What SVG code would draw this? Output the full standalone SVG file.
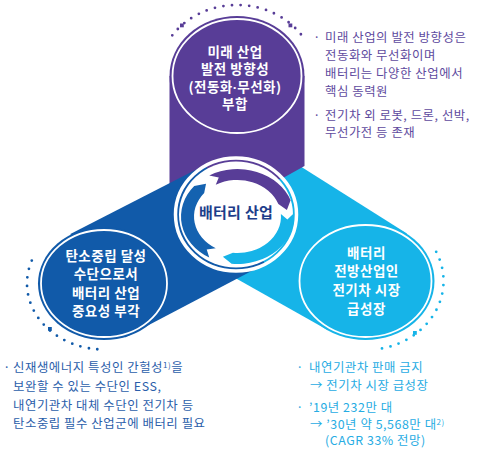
<svg xmlns="http://www.w3.org/2000/svg" width="482" height="452" viewBox="0 0 482 452">
<style>
.lbl{font-family:"Noto Sans CJK KR","Noto Sans",sans-serif;font-weight:700;font-size:13.5px;letter-spacing:0.5px;fill:#fff;text-anchor:middle}
.note{font-family:"Noto Sans CJK KR","Noto Sans",sans-serif;font-size:12.4px;letter-spacing:0.55px}
.nd{font-family:"Liberation Sans",sans-serif;font-weight:700;letter-spacing:0}
.ring{fill:none;stroke:#fff;stroke-width:1.8}
.dots{fill:none;stroke-width:2.8;stroke-linecap:round;stroke-dasharray:0 8.6}
.pu{fill:#583d97}.db{fill:#115aa9}.lb{fill:#16b4e8}
</style>
<defs>
<path id="arw" d="M56.5,0 A56.5,56.5 0 0 1 -9.81,55.64 L-17.92,46.68 L-7.55,42.83 A43.5,43.5 0 0 0 43.5,0 L49.51,6.96 Z"/>
</defs>
<rect width="482" height="452" fill="#fff"/>
<g id="connectors">
<polygon class="lb" points="290,159.8 406.9,233.5 328,330.3 210,263.8 236,214"/>
<path class="pu" d="M169.5,76 L169.5,185 L200,205 L283,178 L304.5,166 L304.5,76 Z"/>
<polygon class="db" points="70.4,233.9 205,165.1 236,214 265,264 125,337.4"/>
</g>
<g id="node-top">
<ellipse class="pu" cx="237" cy="76" rx="67.5" ry="60"/>
<ellipse class="ring" cx="237" cy="76" rx="64.5" ry="57"/>
<path class="dots" stroke="#583d97" d="M172.29,35.28 A79,71 0 0 1 301.71,35.28"/>
<rect x="180" y="23.5" width="3.8" height="3.8" fill="#583d97"/>
<rect x="288.5" y="23.5" width="3.8" height="3.8" fill="#583d97"/>
<text class="lbl" x="235" y="57">미래 산업</text>
<text class="lbl" x="235" y="74.3">발전 방향성</text>
<text class="lbl" x="235" y="91.6">(전동화<tspan class="nd">·</tspan>무선화)</text>
<text class="lbl" x="235" y="108.9">부합</text>
</g>
<g id="node-left">
<ellipse class="db" cx="104" cy="283.5" rx="66" ry="56.5"/>
<ellipse class="ring" cx="104" cy="283.5" rx="63" ry="53.5"/>
<path class="dots" stroke="#115aa9" d="M97.29,349.25 A77,66 0 0 1 35.39,253.54"/>
<rect x="48" y="327" width="3.8" height="3.8" fill="#115aa9"/>
<text class="lbl" x="106" y="261">탄소중립 달성</text>
<text class="lbl" x="106" y="279.3">수단으로서</text>
<text class="lbl" x="106" y="297.6">배터리 산업</text>
<text class="lbl" x="106" y="315.9">중요성 부각</text>
</g>
<g id="node-right">
<ellipse class="lb" cx="365.5" cy="281" rx="69" ry="59"/>
<ellipse class="ring" cx="365.5" cy="281" rx="66" ry="56"/>
<path class="dots" stroke="#16b4e8" d="M436.2,251.8 A78,69 0 0 1 375,349.5"/>
<rect x="413" y="331" width="3.8" height="3.8" fill="#16b4e8"/>
<text class="lbl" x="366.5" y="257.5">배터리</text>
<text class="lbl" x="366.5" y="276.2">전방산업인</text>
<text class="lbl" x="366.5" y="294.9">전기차 시장</text>
<text class="lbl" x="366.5" y="313.6">급성장</text>
</g>
<g id="node-center">
<ellipse cx="236" cy="214.5" rx="60.5" ry="56.5" fill="none" stroke="#fff" stroke-width="3.5"/>
<ellipse cx="236" cy="214.5" rx="57" ry="53" fill="#fff"/>
<g transform="translate(237.5,216.5) scale(1,0.84)">
<use href="#arw" class="pu" transform="rotate(240)"/>
<use href="#arw" class="lb" transform="rotate(356)"/>
<use href="#arw" fill="#1462b0" transform="rotate(120)"/>
</g>
<text x="236" y="217.5" text-anchor="middle" font-family="Noto Sans CJK KR, Noto Sans, sans-serif" font-weight="700" font-size="15" letter-spacing="0.3" fill="#1d3d8a">배터리 산업</text>
</g>
<g id="note-top" class="note" fill="#5e4a9e">
<text x="317" y="41.5" text-anchor="middle">·</text>
<text x="325" y="41.5">미래 산업의 발전 방향성은</text>
<text x="325" y="59.5">전동화와 무선화이며</text>
<text x="325" y="77.5">배터리는 다양한 산업에서</text>
<text x="325" y="95.5">핵심 동력원</text>
<text x="317" y="119.5" text-anchor="middle">·</text>
<text x="325" y="119.5">전기차 외 로봇, 드론, 선박,</text>
<text x="325" y="137">무선가전 등 존재</text>
</g>
<g id="note-left" class="note" fill="#2b5eaa">
<text x="7" y="372" text-anchor="middle">·</text>
<text x="13" y="372">신재생에너지 특성인 간헐성<tspan font-size="8" dy="-4.5">1)</tspan><tspan dy="4.5">을</tspan></text>
<text x="13" y="391">보완할 수 있는 수단인 ESS,</text>
<text x="13" y="409.5">내연기관차 대체 수단인 전기차 등</text>
<text x="13" y="428">탄소중립 필수 산업군에 배터리 필요</text>
</g>
<g id="note-right" class="note" fill="#27ace3">
<text x="300" y="371.5" text-anchor="middle">·</text>
<text x="309" y="371.5">내연기관차 판매 금지</text>
<text x="310" y="389.5">→ 전기차 시장 급성장</text>
<text x="300" y="411.5" text-anchor="middle">·</text>
<text x="309" y="411.5">’19년 232만 대</text>
<text x="310" y="429">→ ’30년 약 5,568만 대<tspan font-size="8" dy="-4.5">2)</tspan></text>
<text x="325" y="445">(CAGR 33% 전망)</text>
</g>
</svg>
